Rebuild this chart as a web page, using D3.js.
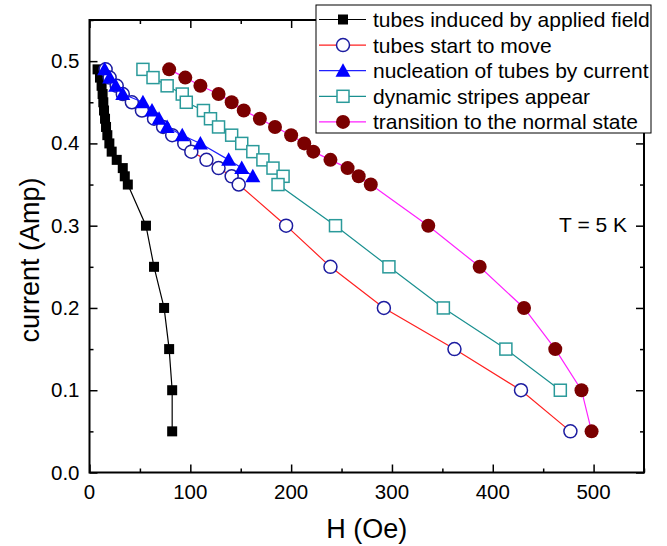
<!DOCTYPE html>
<html>
<head>
<meta charset="utf-8">
<script src="https://cdn.jsdelivr.net/npm/d3@7"></script>
<style>
  body { margin: 0; background: #fff; }
  svg { display: block; font-family: "Liberation Sans", Arial, sans-serif; }
</style>
</head>
<body>
<script>
// ===== data =====
var blackH = [8, 10.4, 12, 13, 13.7, 14.4, 15.4, 16.4, 17.7, 19.7, 22, 27, 33, 35, 38, 56, 64, 74, 79, 82, 82];
var blackI = [0.49, 0.48, 0.47, 0.46, 0.45, 0.44, 0.43, 0.42, 0.41, 0.40, 0.39, 0.38, 0.37, 0.36, 0.35, 0.30, 0.25, 0.20, 0.15, 0.10, 0.05];

var moveH = [16, 20, 27, 33, 42, 52, 64, 73, 82, 94, 101, 116, 128, 141, 148, 195, 239, 292, 362, 428, 477];
var moveI = [0.49, 0.48, 0.47, 0.46, 0.45, 0.44, 0.43, 0.42, 0.41, 0.40, 0.39, 0.38, 0.37, 0.36, 0.35, 0.30, 0.25, 0.20, 0.15, 0.10, 0.05];

var nuclH = [15, 20, 26, 33, 53, 62, 69, 77, 92, 110, 138, 151, 162];
var nuclI = [0.49, 0.48, 0.47, 0.46, 0.45, 0.44, 0.43, 0.42, 0.41, 0.40, 0.38, 0.37, 0.36];

var stripeH = [53, 63, 77, 92, 96, 113, 120, 128, 141, 151, 162, 172, 182, 192, 187, 244, 297, 351, 413, 467];
var stripeI = [0.49, 0.48, 0.47, 0.46, 0.45, 0.44, 0.43, 0.42, 0.41, 0.40, 0.39, 0.38, 0.37, 0.36, 0.35, 0.30, 0.25, 0.20, 0.15, 0.10];

var normalH = [79, 95, 110, 128, 141, 153, 169, 184, 200, 213, 222, 239, 256, 267, 279, 336, 387, 431, 462, 488, 498];
var normalI = [0.49, 0.48, 0.47, 0.46, 0.45, 0.44, 0.43, 0.42, 0.41, 0.40, 0.39, 0.38, 0.37, 0.36, 0.35, 0.30, 0.25, 0.20, 0.15, 0.10, 0.05];

var xMajor = [0, 100, 200, 300, 400, 500];
var xMinor = [50, 150, 250, 350, 450, 550];
var yMajor = [0.0, 0.1, 0.2, 0.3, 0.4, 0.5];
var yMinor = [0.05, 0.15, 0.25, 0.35, 0.45, 0.55];

var seriesNames = ['tubes induced by applied field', 'tubes start to move', 'nucleation of tubes by current', 'dynamic stripes appear', 'transition to the normal state'];

function zip(hs, is) {
  return hs.map(function(h, i) { return { h: h, i: is[i] }; });
}

var series = [
  { name: seriesNames[0], pts: zip(blackH, blackI), line: '#000000', shape: 'square', size: 10, fill: '#000000', stroke: 'none' },
  { name: seriesNames[1], pts: zip(moveH, moveI), line: '#ff2020', shape: 'circle', size: 13, fill: '#ffffff', stroke: '#1c1ca0' },
  { name: seriesNames[2], pts: zip(nuclH, nuclI), line: '#2020ff', shape: 'triangle', size: 15, fill: '#0000ff', stroke: 'none' },
  { name: seriesNames[3], pts: zip(stripeH, stripeI), line: '#1a9090', shape: 'square', size: 12, fill: '#ffffff', stroke: '#2a9a9a' },
  { name: seriesNames[4], pts: zip(normalH, normalI), line: '#ff20ff', shape: 'circle', size: 14, fill: '#7a0000', stroke: 'none' }
];

// ===== frame =====
var w = 667, h = 546;
var pLeft = 89.5, pRight = 644, pTop = 20, pBottom = 472.5;

var svg = d3.select('body').append('svg')
  .attr('width', w)
  .attr('height', h);

var xScale = d3.scaleLinear().domain([0, 550]).range([pLeft, pRight]);
var yScale = d3.scaleLinear().domain([0, 0.55]).range([pBottom, pTop]);

// ===== axes (ticks inward, mirrored on top/right) =====
function tickAxis(axisFn, scale, vals, len) {
  return axisFn(scale).tickValues(vals).tickSizeInner(len).tickSizeOuter(0).tickFormat(function() { return ''; });
}

var axisG = svg.append('g').attr('class', 'axes');

// bottom
axisG.append('g').attr('transform', 'translate(0,' + pBottom + ')').call(tickAxis(d3.axisTop, xScale, xMajor, 8));
axisG.append('g').attr('transform', 'translate(0,' + pBottom + ')').call(tickAxis(d3.axisTop, xScale, xMinor, 4));
// top
axisG.append('g').attr('transform', 'translate(0,' + pTop + ')').call(tickAxis(d3.axisBottom, xScale, xMajor, 8));
axisG.append('g').attr('transform', 'translate(0,' + pTop + ')').call(tickAxis(d3.axisBottom, xScale, xMinor, 4));
// left
axisG.append('g').attr('transform', 'translate(' + pLeft + ',0)').call(tickAxis(d3.axisRight, yScale, yMajor, 8));
axisG.append('g').attr('transform', 'translate(' + pLeft + ',0)').call(tickAxis(d3.axisRight, yScale, yMinor, 4));
// right
axisG.append('g').attr('transform', 'translate(' + pRight + ',0)').call(tickAxis(d3.axisLeft, yScale, yMajor, 8));
axisG.append('g').attr('transform', 'translate(' + pRight + ',0)').call(tickAxis(d3.axisLeft, yScale, yMinor, 4));

axisG.selectAll('.domain').remove();
axisG.selectAll('text').remove();
axisG.selectAll('line').attr('stroke', '#000').attr('stroke-width', 1.5);

svg.append('rect')
  .attr('x', pLeft).attr('y', pTop)
  .attr('width', pRight - pLeft).attr('height', pBottom - pTop)
  .attr('fill', 'none').attr('stroke', '#000').attr('stroke-width', 2);

// tick labels
svg.append('g').selectAll('text').data(xMajor).enter()
  .append('text')
  .attr('x', function(d) { return xScale(d); })
  .attr('y', pBottom + 26)
  .attr('text-anchor', 'middle')
  .attr('font-size', 20.5)
  .text(function(d) { return d; });

svg.append('g').selectAll('text').data(yMajor).enter()
  .append('text')
  .attr('x', pLeft - 10)
  .attr('y', function(d) { return yScale(d) + 7; })
  .attr('text-anchor', 'end')
  .attr('font-size', 20.5)
  .text(function(d) { return d.toFixed(1); });

// axis titles
svg.append('text')
  .attr('x', (pLeft + pRight) / 2)
  .attr('y', 538)
  .attr('text-anchor', 'middle')
  .attr('font-size', 27)
  .text('H (Oe)');

svg.append('text')
  .attr('transform', 'translate(39,260) rotate(-90)')
  .attr('text-anchor', 'middle')
  .attr('font-size', 27)
  .text('current (Amp)');

svg.append('text')
  .attr('x', 627)
  .attr('y', 232)
  .attr('text-anchor', 'end')
  .attr('font-size', 21)
  .text('T = 5 K');

// ===== markers =====
function drawMarker(sel, s) {
  var r = s.size / 2;
  if (s.shape === 'square') {
    sel.append('rect')
      .attr('x', -r).attr('y', -r).attr('width', s.size).attr('height', s.size);
  } else if (s.shape === 'circle') {
    sel.append('circle').attr('r', r);
  } else {
    sel.append('path')
      .attr('d', 'M0,' + (-r) + 'L' + r + ',' + (r * 0.8) + 'L' + (-r) + ',' + (r * 0.8) + 'Z');
  }
  sel.selectAll('rect,circle,path')
    .attr('fill', s.fill)
    .attr('stroke', s.stroke)
    .attr('stroke-width', s.stroke === 'none' ? 0 : 1.5);
}

var lineGen = d3.line()
  .x(function(d) { return xScale(d.h); })
  .y(function(d) { return yScale(d.i); });

series.forEach(function(s) {
  var g = svg.append('g');
  g.append('path')
    .attr('d', lineGen(s.pts))
    .attr('fill', 'none')
    .attr('stroke', s.line)
    .attr('stroke-width', 1.2);
  g.selectAll('g.pt').data(s.pts).enter()
    .append('g')
    .attr('class', 'pt')
    .attr('transform', function(d) { return 'translate(' + xScale(d.h) + ',' + yScale(d.i) + ')'; })
    .each(function() { drawMarker(d3.select(this), s); });
});

// ===== legend =====
var leg = svg.append('g');
leg.append('rect')
  .attr('x', 316).attr('y', 5)
  .attr('width', 335).attr('height', 128)
  .attr('fill', '#fff').attr('stroke', '#000').attr('stroke-width', 1);

var rows = leg.selectAll('g.row').data(series).enter()
  .append('g')
  .attr('class', 'row')
  .attr('transform', function(d, i) { return 'translate(0,' + (19.5 + i * 25.6) + ')'; });

rows.append('line')
  .attr('x1', 319).attr('x2', 366)
  .attr('stroke', function(d) { return d.line; })
  .attr('stroke-width', 1.2);

rows.append('g')
  .attr('transform', 'translate(343,0)')
  .each(function(d) { drawMarker(d3.select(this), d); });

rows.append('text')
  .attr('x', 373)
  .attr('y', 7.5)
  .attr('font-size', 21)
  .text(function(d) { return d.name; });
</script>
</body>
</html>
